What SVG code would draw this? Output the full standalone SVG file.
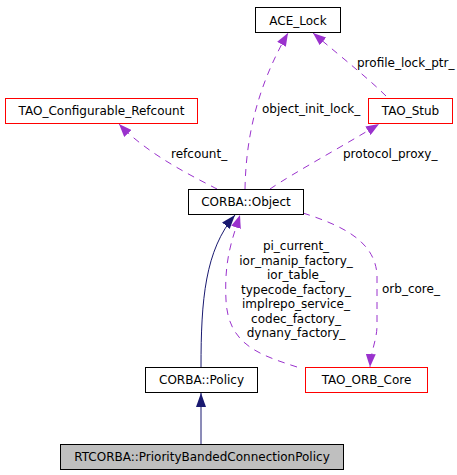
<svg xmlns="http://www.w3.org/2000/svg" width="457" height="475" viewBox="0 0 457 475">
<style>
text{font-family:"DejaVu Sans",sans-serif;font-size:12px;fill:#000}
.c{text-anchor:middle}
.box{fill:#fff;stroke:#000;stroke-width:1}
.red{fill:#fff;stroke:#ff0000;stroke-width:1}
.grey{fill:#bfbfbf;stroke:#000;stroke-width:1}
.inh{fill:none;stroke:#191970;stroke-width:1;marker-end:url(#aN)}
.use{fill:none;stroke:#9a32cd;stroke-width:1;stroke-dasharray:7,6;marker-end:url(#aP)}
</style>
<defs>
<marker id="aN" markerUnits="userSpaceOnUse" markerWidth="14" markerHeight="10" refX="14" refY="5" orient="auto" viewBox="0 0 14 10"><path d="M0,0L14,5L0,10z" fill="#191970"/></marker>
<marker id="aP" markerUnits="userSpaceOnUse" markerWidth="13" markerHeight="10" refX="13" refY="5" orient="auto" viewBox="0 0 13 10"><path d="M0,0L13,5L0,10z" fill="#9a32cd"/></marker>
</defs>
<rect width="457" height="475" fill="#fff"/>
<g id="connectors">
<path class="inh" d="M201,444L201,393"/>
<path class="inh" d="M201,367C201,300 205,250 235,215"/>
<path class="use" d="M217,189C196,178 148,155 119,124"/>
<path class="use" d="M245,189C246,135 258,85 288,33"/>
<path class="use" d="M270,189C295,172 345,145 379,124"/>
<path class="use" d="M386,96C370,80 345,60 313,33"/>
<path class="use" d="M303,213C340,225 375,240 377,275L377,325C377,340 371,350 370,367"/>
<path class="use" d="M297,367C260,355 228,345 226,300C224,260 232,240 240,215"/>
<text x="171" y="158">refcount_</text>
<text x="262" y="113">object_init_lock_</text>
<text x="343" y="158">protocol_proxy_</text>
<text x="357" y="67">profile_lock_ptr_</text>
<text x="382" y="293">orb_core_</text>
<text class="c" x="296" y="250">pi_current_</text>
<text class="c" x="296" y="264.5">ior_manip_factory_</text>
<text class="c" x="296" y="279">ior_table_</text>
<text class="c" x="296" y="293.5">typecode_factory_</text>
<text class="c" x="296" y="308">implrepo_service_</text>
<text class="c" x="296" y="322.5">codec_factory_</text>
<text class="c" x="296" y="337">dynany_factory_</text>
</g>
<g id="ACE_Lock"><rect class="box" x="255.5" y="7.5" width="85" height="25"/><text class="c" x="298" y="24.5">ACE_Lock</text></g>
<g id="TAO_Configurable_Refcount"><rect class="red" x="5.5" y="98.5" width="192" height="25"/><text class="c" x="101.5" y="115">TAO_Configurable_Refcount</text></g>
<g id="TAO_Stub"><rect class="red" x="368.5" y="98.5" width="84" height="25"/><text class="c" x="410.5" y="115">TAO_Stub</text></g>
<g id="CORBA_Object"><rect class="box" x="188.5" y="189.5" width="115" height="25"/><text class="c" x="246" y="206">CORBA::Object</text></g>
<g id="CORBA_Policy"><rect class="box" x="145.5" y="367.5" width="112" height="25"/><text class="c" x="201.5" y="384">CORBA::Policy</text></g>
<g id="TAO_ORB_Core"><rect class="red" x="305.5" y="367.5" width="122" height="25"/><text class="c" x="366.5" y="384">TAO_ORB_Core</text></g>
<g id="RTCORBA_PriorityBandedConnectionPolicy"><rect class="grey" x="60.5" y="444.5" width="283" height="25"/><text class="c" x="202" y="461">RTCORBA::PriorityBandedConnectionPolicy</text></g>
</svg>
